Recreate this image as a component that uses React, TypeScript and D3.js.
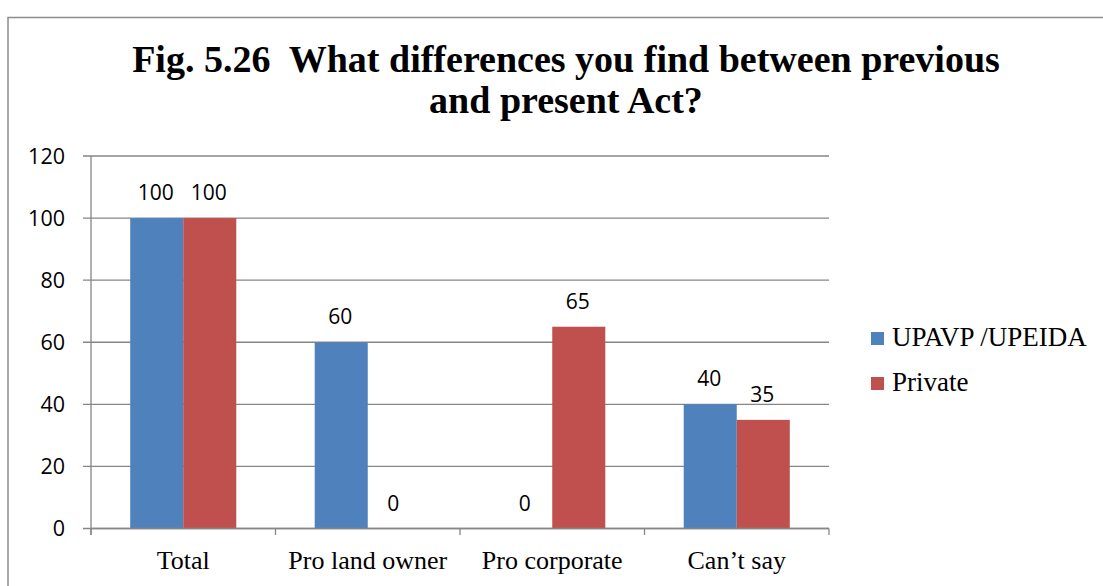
import * as d3 from "d3";

const categories = ["Total", "Pro land owner", "Pro corporate", "Can\u2019t say"];
const seriesNames = ["UPAVP /UPEIDA", "Private"];
const upavp = [100, 60, 0, 40];
const privateVals = [100, 0, 65, 35];
const yTicks = [0, 20, 40, 60, 80, 100, 120];
const titleLines = [
  "Fig. 5.26  What differences you find between previous",
  "and present Act?",
];

const W = 1103;
const H = 586;
const COLORS = ["#4F81BD", "#C0504D"];
const GRID = "#868686";
const SANS = "'Open Sans', 'Noto Sans', sans-serif";
const SERIF = "'Liberation Serif', 'Times New Roman', serif";

export default function App() {
  const x0 = 91;
  const x1 = 829;
  const y = d3.scaleLinear().domain([0, 120]).range([528.5, 156]);
  const x = d3
    .scaleBand<string>()
    .domain(categories)
    .range([x0, x1])
    .paddingInner(0.425)
    .paddingOuter(0.2125);
  const xs = d3
    .scaleBand<string>()
    .domain(seriesNames)
    .range([0, x.bandwidth()]);
  const step = (x1 - x0) / categories.length;
  const boundaries = d3.range(categories.length + 1).map((i) => x0 + i * step);

  const series = [upavp, privateVals];

  return (
    <div style={{ position: "absolute", left: 0, top: 0 }}>
      <svg width={W} height={H} style={{ display: "block", background: "#fff" }}>
        {/* outer frame */}
        <path
          d={`M8,${H + 2}V17.5H${W + 2}`}
          fill="none"
          stroke="#8c8c8c"
          strokeWidth={1.5}
        />

        {/* title */}
        {titleLines.map((t, i) => (
          <text
            key={t}
            x={566}
            y={72 + i * 41}
            textAnchor="middle"
            fontFamily={SERIF}
            fontWeight="bold"
            fontSize={38}
            fill="#000"
            style={{ whiteSpace: "pre" }}
          >
            {t}
          </text>
        ))}

        {/* gridlines + y ticks */}
        {yTicks.map((t) => (
          <g key={t}>
            <line x1={83} x2={x1} y1={y(t)} y2={y(t)} stroke={GRID} strokeWidth={1.3} />
            <text
              x={65}
              y={y(t)}
              dy="0.36em"
              textAnchor="end"
              fontFamily={SANS}
              fontSize={21.5}
              fill="#000"
            >
              {t}
            </text>
          </g>
        ))}

        {/* y axis */}
        <line x1={x0} x2={x0} y1={y(120)} y2={y(0) + 6.5} stroke={GRID} strokeWidth={1.3} />

        {/* x ticks */}
        {boundaries.map((b, i) => (
          <line key={i} x1={b} x2={b} y1={y(0)} y2={y(0) + 6.5} stroke={GRID} strokeWidth={1.3} />
        ))}

        {/* bars */}
        {categories.map((c, ci) => (
          <g key={c}>
            {series.map((vals, si) => {
              const bx = (x(c) ?? 0) + (xs(seriesNames[si]) ?? 0);
              const v = vals[ci];
              return (
                <g key={si}>
                  {v > 0 && (
                    <rect
                      x={bx}
                      y={y(v)}
                      width={xs.bandwidth()}
                      height={y(0) - y(v)}
                      fill={COLORS[si]}
                    />
                  )}
                  <text
                    x={bx + xs.bandwidth() / 2 - 1}
                    y={y(v) - 18}
                    textAnchor="middle"
                    fontFamily={SANS}
                    fontSize={21}
                    fill="#000"
                  >
                    {v}
                  </text>
                </g>
              );
            })}
            {/* category label */}
            <text
              x={(x(c) ?? 0) + x.bandwidth() / 2}
              y={569}
              textAnchor="middle"
              fontFamily={SERIF}
              fontSize={26}
              fill="#000"
            >
              {c}
            </text>
          </g>
        ))}

        {/* x axis line */}
        <line x1={x0} x2={x1} y1={y(0)} y2={y(0)} stroke={GRID} strokeWidth={1.3} />

        {/* legend */}
        {seriesNames.map((s, i) => (
          <g key={s} transform={`translate(871,${332 + i * 45})`}>
            <rect width={13} height={13} fill={COLORS[i]} />
            <text x={21} y={14} fontFamily={SERIF} fontSize={27} fill="#000">
              {s}
            </text>
          </g>
        ))}
      </svg>
    </div>
  );
}
